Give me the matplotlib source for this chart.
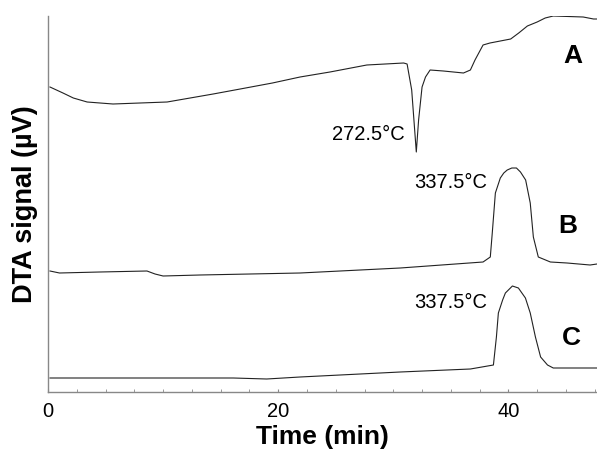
import matplotlib
matplotlib.use('Agg')
import matplotlib.pyplot as plt
from matplotlib.ticker import MultipleLocator
import numpy as np

plt.rcParams['font.family'] = ['Liberation Sans', 'DejaVu Sans']

# curve A (time in min, signal in arbitrary units)
tA = [0.17, 1.3, 2.2, 3.4, 5.65, 8.0, 10.35, 12.35, 14.35, 16.7, 19.5, 21.9, 24.5,
      27.7, 30.9, 31.2, 31.6, 32.0, 32.2, 32.5, 32.8, 33.2, 34.35, 36.1, 36.7,
      37.1, 37.8, 38.4, 40.2, 40.9, 41.65, 42.5, 43.2, 43.9, 46.5, 47.4, 47.7]
sA = [305, 299, 294, 290, 288, 289, 290, 294, 298, 303, 309, 315, 320,
      327, 329, 328, 302, 240, 272, 305, 315, 322, 321, 319, 322,
      332, 347, 349, 353, 359, 366, 370, 374, 376, 375, 373, 373]

# curve B
tB = [0.17, 1.0, 4.5, 8.6, 9.3, 10.0, 13.2, 21.9, 30.6, 37.8, 38.43, 38.6, 38.87,
      39.3, 39.6, 39.9, 40.3, 40.7, 41.05, 41.5, 41.9, 42.17, 42.6, 43.65, 45.1,
      47.1, 47.7]
sB = [121, 119, 120, 121, 118, 116, 117, 119, 124, 130, 135, 159, 199,
      214, 219, 222, 224, 224, 220, 212, 189, 155, 135, 130, 129,
      127, 128]

# curve C
tC = [0.17, 16.1, 19.0, 21.9, 30.6, 36.7, 38.7, 38.96, 39.13, 39.5, 39.74, 40.35,
      40.87, 41.48, 41.9, 42.35, 42.8, 43.4, 43.9, 47.1, 47.7]
sC = [14, 14, 13, 15, 20, 23, 27, 55, 79, 92, 99, 106,
      104, 94, 79, 55, 35, 27, 24, 24, 24]

peak_labels = ['272.5°C', '337.5°C', '337.5°C']
curve_names = ['A', 'B', 'C']

fig = plt.figure(figsize=(5.97, 4.53), dpi=100)
ax = fig.add_axes([48/597., 1 - 392/453., 1 - 48/597., (392 - 16)/453.])

for t, s in [(tA, sA), (tB, sB), (tC, sC)]:
    ax.plot(t, s, '-', color='#222222', lw=0.8)

ax.set_xlim(0, 47.7)
ax.set_ylim(0, 376)

ax.text(31.0, 257, peak_labels[0], ha='right', va='center', fontsize=14.5)
ax.text(38.2, 210, peak_labels[1], ha='right', va='center', fontsize=14.5)
ax.text(38.2, 90, peak_labels[2], ha='right', va='center', fontsize=14.5)

ax.text(45.6, 336, curve_names[0], ha='center', va='center', fontsize=19, fontweight='bold')
ax.text(45.2, 166, curve_names[1], ha='center', va='center', fontsize=19, fontweight='bold')
ax.text(45.5, 54, curve_names[2], ha='center', va='center', fontsize=19, fontweight='bold')

for side in ['top', 'right']:
    ax.spines[side].set_visible(False)
for side in ['left', 'bottom']:
    ax.spines[side].set_color('#888888')
    ax.spines[side].set_linewidth(1.0)

ax.set_xticks([0, 20, 40])
ax.xaxis.set_minor_locator(MultipleLocator(2.5))
ax.tick_params(axis='x', which='major', direction='in', length=2, color='#888888',
               labelsize=14.5, pad=7)
ax.tick_params(axis='x', which='minor', direction='in', length=2, color='#888888')
ax.set_yticks([])

ax.set_xlabel('Time (min)', fontsize=19, fontweight='bold', labelpad=3)
ax.set_ylabel('DTA signal (µV)', fontsize=19.5, fontweight='bold', labelpad=7)

plt.savefig('out.png', dpi=100)
